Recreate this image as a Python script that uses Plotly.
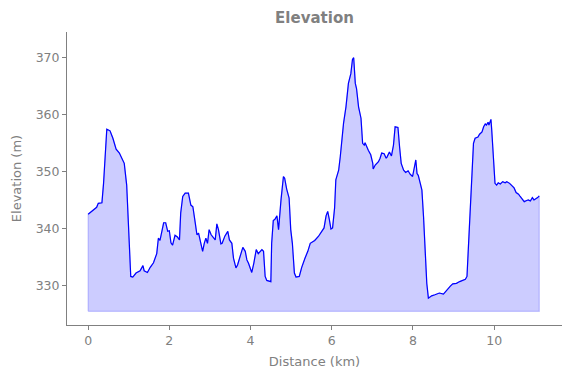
import plotly.graph_objects as go

distance_km = [0.0, 0.09, 0.21, 0.25, 0.34, 0.38, 0.46, 0.54, 0.61, 0.69, 0.77, 0.83, 0.89, 0.95, 0.99,
               1.05, 1.10, 1.18, 1.28, 1.35, 1.38, 1.46, 1.53, 1.61, 1.69, 1.73, 1.77, 1.82, 1.86, 1.91,
               1.96, 2.00, 2.04, 2.08, 2.14, 2.20, 2.25, 2.28, 2.33, 2.39, 2.47, 2.53, 2.58, 2.64, 2.68,
               2.72, 2.76, 2.82, 2.86, 2.90, 2.94, 2.98, 3.03, 3.07, 3.13, 3.17, 3.21, 3.27, 3.30, 3.37,
               3.44, 3.48, 3.54, 3.58, 3.64, 3.68, 3.74, 3.81, 3.87, 3.91, 3.95, 4.03, 4.08, 4.14, 4.19,
               4.28, 4.32, 4.36, 4.40, 4.50, 4.52, 4.56, 4.60, 4.65, 4.69, 4.70, 4.75, 4.81, 4.84, 4.89,
               4.95, 4.99, 5.03, 5.08, 5.12, 5.20, 5.26, 5.34, 5.41, 5.47, 5.53, 5.58, 5.67, 5.75, 5.81,
               5.86, 5.90, 5.94, 5.98, 6.02, 6.07, 6.10, 6.17, 6.21, 6.25, 6.29, 6.35, 6.41, 6.47, 6.51,
               6.54, 6.58, 6.61, 6.66, 6.72, 6.76, 6.80, 6.82, 6.90, 6.96, 7.01, 7.02, 7.07, 7.15, 7.19,
               7.23, 7.29, 7.34, 7.36, 7.42, 7.47, 7.52, 7.56, 7.63, 7.67, 7.71, 7.77, 7.82, 7.88, 7.93,
               7.99, 8.03, 8.07, 8.10, 8.13, 8.18, 8.22, 8.26, 8.30, 8.34, 8.38, 8.46, 8.54, 8.65, 8.75,
               8.83, 8.92, 8.98, 9.07, 9.15, 9.23, 9.29, 9.33, 9.37, 9.41, 9.45, 9.49, 9.53, 9.60, 9.64,
               9.70, 9.74, 9.78, 9.81, 9.85, 9.87, 9.92, 9.94, 9.98, 10.02, 10.06, 10.10, 10.15, 10.21,
               10.27, 10.31, 10.38, 10.43, 10.49, 10.54, 10.60, 10.64, 10.68, 10.74, 10.80, 10.84, 10.89,
               10.94, 10.98, 11.03, 11.07, 11.11]
elevation_m = [342.5, 343.0, 343.7, 344.4, 344.5, 347.9, 357.4, 357.1, 355.8, 353.9, 353.2, 352.3, 351.4, 347.6, 339.8,
               331.6, 331.5, 332.2, 332.6, 333.5, 332.6, 332.3, 333.2, 334.0, 335.6, 338.3, 337.9, 339.5, 341.0, 341.0,
               339.5, 339.6, 337.5, 337.1, 338.8, 338.5, 338.0, 342.7, 345.6, 346.2, 346.2, 344.1, 343.8, 340.9, 338.9,
               339.2, 337.7, 336.0, 337.4, 338.3, 337.4, 339.8, 338.9, 338.6, 338.0, 340.8, 339.8, 337.3, 337.4, 338.7,
               339.5, 338.0, 337.4, 334.8, 333.1, 333.6, 335.1, 336.7, 336.0, 334.5, 333.9, 332.3, 333.9, 336.3, 335.6,
               336.3, 336.0, 331.6, 330.9, 330.7, 337.4, 341.4, 341.6, 342.2, 339.8, 341.0, 345.0, 349.1, 348.8, 346.9,
               345.3, 339.8, 337.4, 332.2, 331.5, 331.6, 333.2, 334.8, 336.0, 337.4, 337.7, 337.9, 338.6, 339.5, 340.1,
               342.2, 343.0, 341.6, 339.9, 340.1, 343.6, 348.5, 350.2, 352.6, 355.5, 358.4, 361.3, 365.4, 367.1, 369.6,
               369.9, 365.4, 364.5, 361.3, 359.3, 354.9, 354.6, 355.0, 353.7, 352.9, 351.4, 350.4, 351.1, 351.7, 352.3,
               353.2, 353.1, 352.3, 352.5, 353.4, 352.7, 354.6, 357.8, 357.7, 354.3, 351.4, 350.2, 349.8, 350.1, 349.5,
               349.1, 350.7, 352.0, 349.6, 349.3, 347.9, 346.7, 342.1, 335.1, 330.4, 327.8, 328.2, 328.4, 328.7, 328.5,
               329.2, 329.9, 330.3, 330.4, 330.7, 331.0, 331.1, 331.6, 337.4, 345.6, 351.7, 354.9, 355.8, 356.0, 356.5,
               356.9, 357.8, 358.3, 358.1, 358.6, 358.1, 359.1, 357.2, 352.6, 347.9, 347.6, 348.0, 347.8, 348.2,
               348.0, 348.2, 347.9, 347.6, 347.1, 346.3, 346.0, 345.6, 345.3, 344.7, 344.9, 345.0, 344.8,
               345.4, 345.0, 345.2, 345.4, 345.7]
fill_base_m = 325.5

x_ticks = [0, 2, 4, 6, 8, 10]
y_ticks = [330, 340, 350, 360, 370]

poly_x = [distance_km[0]] + distance_km + [distance_km[-1], distance_km[0]]
poly_y = [fill_base_m] + elevation_m + [fill_base_m, fill_base_m]

gray = "#808080"
fig = go.Figure()
fig.add_trace(go.Scatter(x=poly_x, y=poly_y, mode="lines", fill="toself",
                         fillcolor="rgba(0,0,255,0.2)", line=dict(color="rgba(0,0,255,0.2)", width=1.2),
                         hoverinfo="skip", showlegend=False))
fig.add_trace(go.Scatter(x=distance_km, y=elevation_m, mode="lines",
                         line=dict(color="#0000ff", width=1.2), showlegend=False))

fig.update_layout(
    width=571, height=378,
    margin=dict(l=67, r=9, t=32, b=53),
    paper_bgcolor="white", plot_bgcolor="white",
    font=dict(family="DejaVu Sans", color=gray, size=12),
    title=dict(text="<b>Elevation</b>", x=0.5, xref="paper", xanchor="center",
               y=1 - 18/378, yref="container", yanchor="middle",
               font=dict(size=15, color=gray, family="DejaVu Sans")),
    xaxis=dict(range=[-0.52, 11.67], tickvals=x_ticks, ticks="outside", ticklen=4,
               tickcolor=gray, showline=True, linecolor=gray, linewidth=1, showgrid=False,
               zeroline=False, mirror=False, automargin=False,
               title=dict(text="Distance (km)", font=dict(size=13, color=gray), standoff=9),
               tickfont=dict(size=12.5, color=gray)),
    yaxis=dict(range=[323.1, 374.4], tickvals=y_ticks, ticks="outside", ticklen=4,
               tickcolor=gray, showline=True, linecolor=gray, linewidth=1, showgrid=False,
               zeroline=False, automargin=False,
               title=dict(text="Elevation (m)", font=dict(size=13, color=gray), standoff=11),
               tickfont=dict(size=12.5, color=gray)),
)
fig.write_html("out.html", config={"displayModeBar": False},
               post_script="document.body.style.margin='0';document.body.style.overflow='hidden';")
